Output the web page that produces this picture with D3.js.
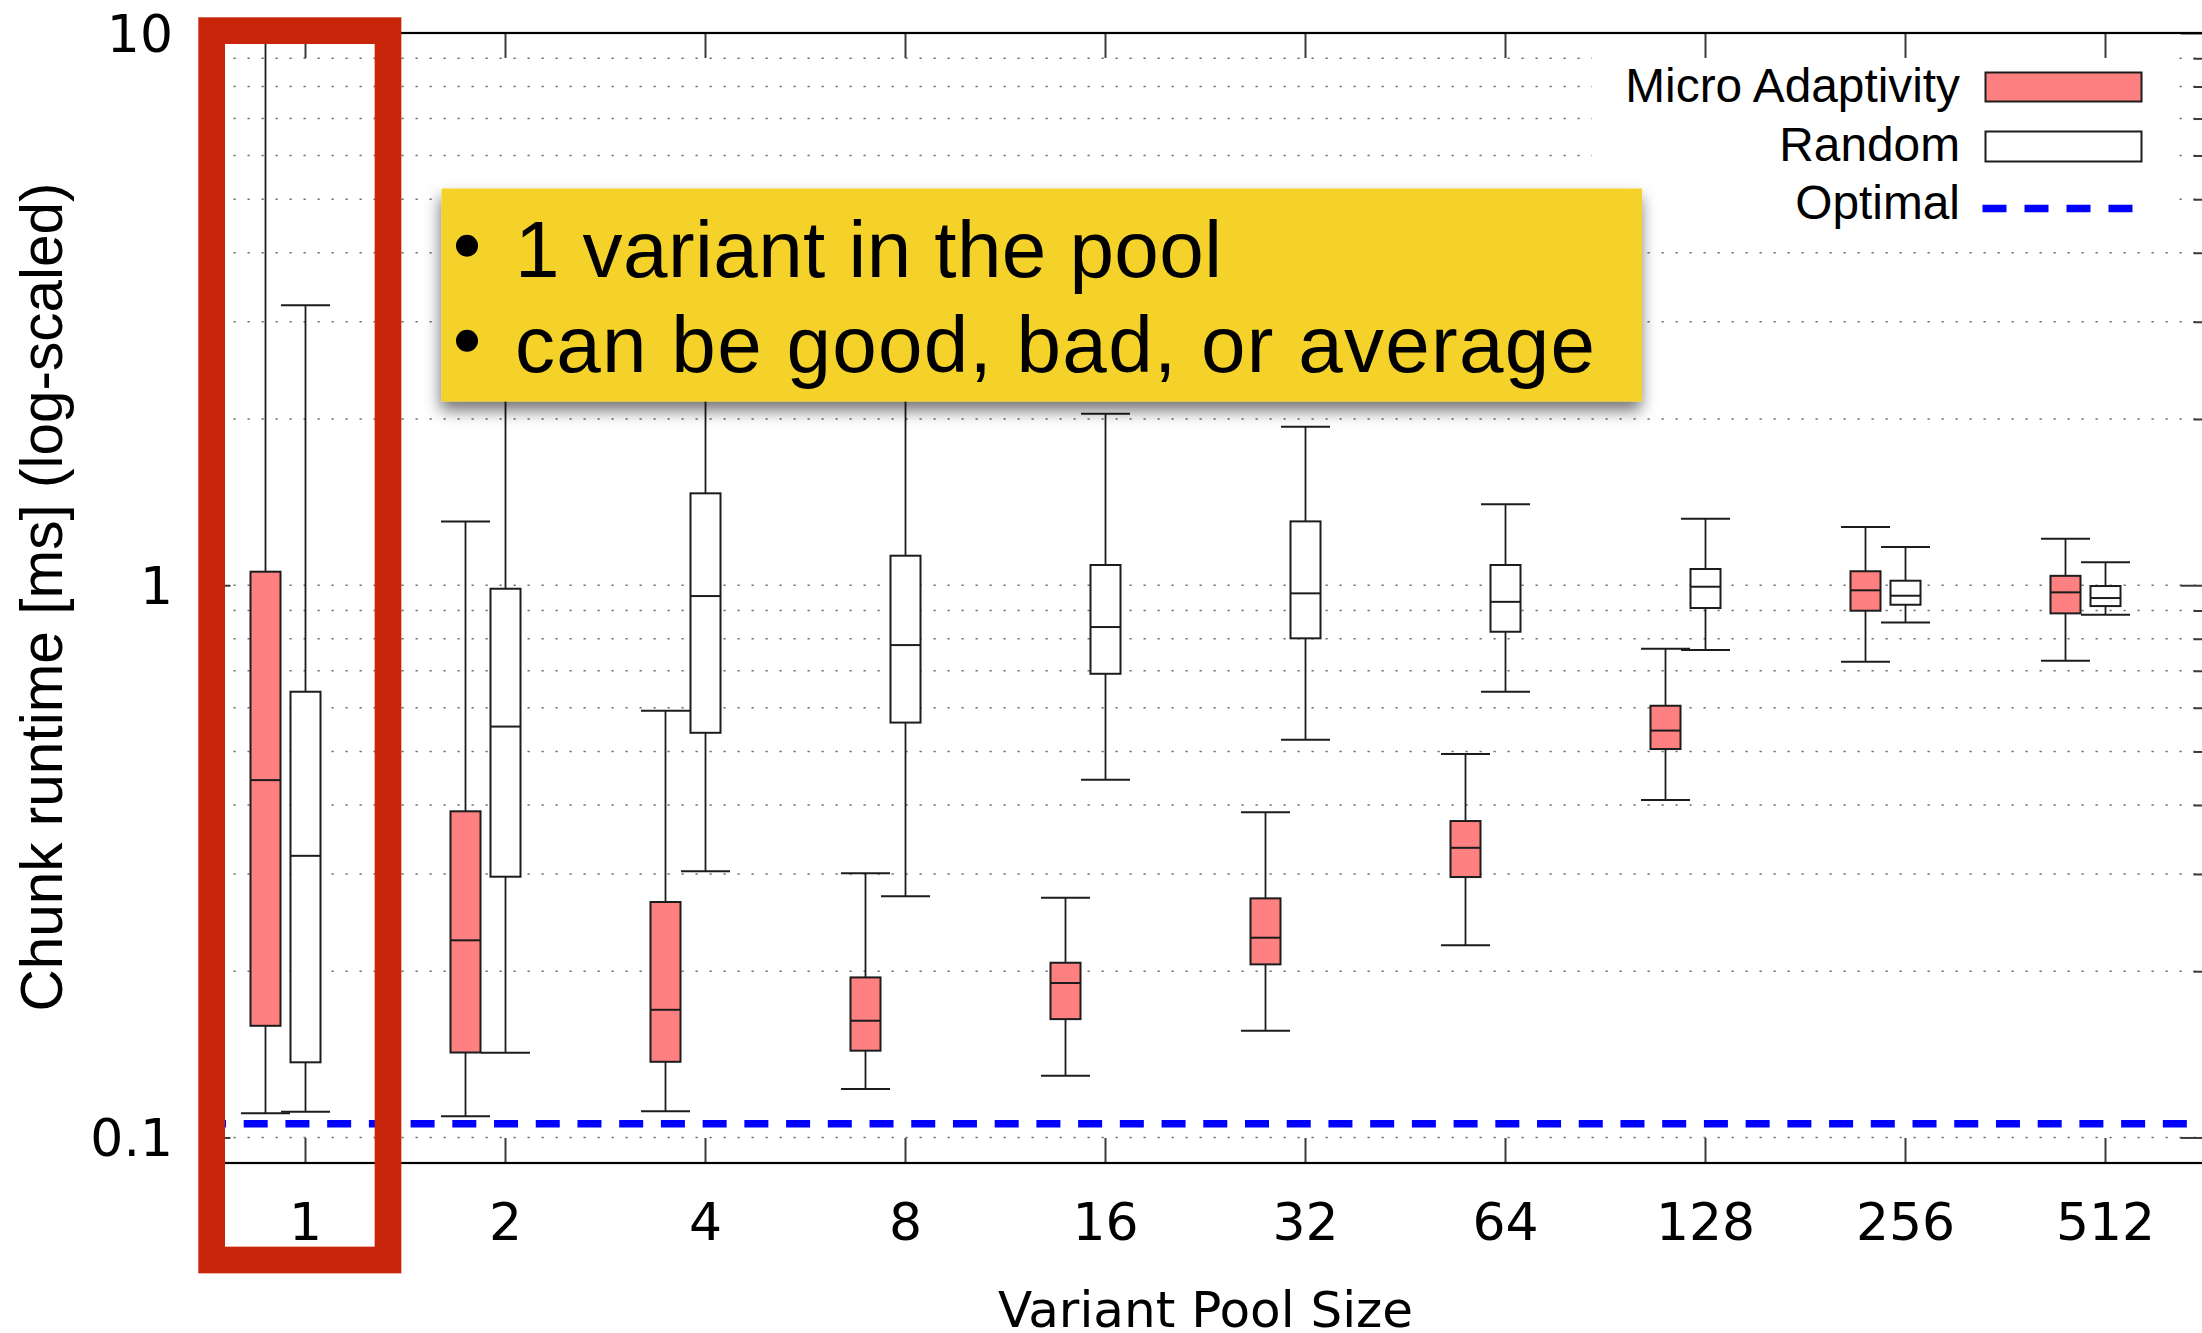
<!DOCTYPE html>
<html>
<head>
<meta charset="utf-8">
<script src="https://cdn.jsdelivr.net/npm/d3@7"></script>
<style>
  html, body { margin: 0; padding: 0; background: #fff; }
  svg { display: block; }
</style>
</head>
<body>
<svg id="chart" width="2202" height="1333"></svg>
<script>
// Variant pool sizes on the x axis
const poolSizes = ["1", "2", "4", "8", "16", "32", "64", "128", "256", "512"];

// Micro Adaptivity chunk runtimes [ms]: lower whisker, Q1, median, Q3, upper whisker
const maLow    = [0.1106, 0.1093, 0.1116, 0.1224, 0.1293, 0.1560, 0.2228, 0.4083, 0.7270, 0.7300];
const maQ1     = [0.1593, 0.1425, 0.1371, 0.1436, 0.1638, 0.2058, 0.2962, 0.5051, 0.8992, 0.8893];
const maMedian = [0.4437, 0.2275, 0.1703, 0.1627, 0.1904, 0.2300, 0.3346, 0.5455, 0.9790, 0.9708];
const maQ3     = [1.058, 0.3896, 0.2669, 0.1949, 0.2072, 0.2710, 0.3741, 0.6050, 1.060, 1.040];
const maHigh   = [9.8, 1.305, 0.5926, 0.3010, 0.2717, 0.3881, 0.4946, 0.7674, 1.275, 1.214];

// Random variant choice chunk runtimes [ms]
const rndLow    = [0.1113, 0.1424, 0.3035, 0.2733, 0.4443, 0.5250, 0.6414, 0.7633, 0.8565, 0.8842];
const rndQ1     = [0.1368, 0.2966, 0.5405, 0.5640, 0.6913, 0.8014, 0.8237, 0.9094, 0.9219, 0.9168];
const rndMedian = [0.3236, 0.5547, 0.9559, 0.7792, 0.8400, 0.9667, 0.9331, 0.9938, 0.9572, 0.9480];
const rndQ3     = [0.6414, 0.9855, 1.467, 1.131, 1.088, 1.305, 1.088, 1.070, 1.019, 0.9967];
const rndHigh   = [3.213, 3.0, 2.7, 2.4, 2.045, 1.936, 1.401, 1.319, 1.173, 1.100];

// Optimal runtime [ms]
const optimalRuntime = 0.1059;

// Y axis ticks
const yMajorTicks = [0.1, 1, 10];
const yTickLabels = ["0.1", "1", "10"];
const yMinorTicks = [0.2, 0.3, 0.4, 0.5, 0.6, 0.7, 0.8, 0.9, 2, 3, 4, 5, 6, 7, 8, 9];

const legendLabels = ["Micro Adaptivity", "Random", "Optimal"];
const calloutLines = ["1 variant in the pool", "can be good, bad, or average"];

// ---- layout ----
const plot = { left: 205.5, right: 2205.5, top: 33, bottom: 1163 };
const maColor = "#ff8080";
const inkColor = "#1c1c1c";
const boxW = 30, capW = 49, maOffset = -40;

const svg = d3.select("#chart");

const x = d3.scaleBand().domain(poolSizes).range([plot.left, plot.right]).padding(0);
const xc = d => x(d) + x.bandwidth() / 2;
const y = d3.scaleLog().domain([0.0899, 10]).range([plot.bottom, plot.top]);

// dotted horizontal grid
const gridVals = [...yMajorTicks.filter(v => v < 10), ...yMinorTicks];
svg.append("g").selectAll("line").data(gridVals).join("line")
  .attr("x1", plot.left).attr("x2", plot.right)
  .attr("y1", d => y(d)).attr("y2", d => y(d))
  .attr("stroke", "#6e6e6e").attr("stroke-width", 1.6)
  .attr("stroke-dasharray", "2.2 11.8");

// box plots
function drawBoxes(g, low, q1, med, q3, high, dx, fill) {
  const rows = poolSizes.map((p, i) => ({ p, low: low[i], q1: q1[i], med: med[i], q3: q3[i], high: high[i] }));
  const grp = g.selectAll("g").data(rows).join("g")
    .attr("transform", d => `translate(${xc(d.p) + dx},0)`);
  grp.append("line").attr("x1", 0).attr("x2", 0)
    .attr("y1", d => y(d.q3)).attr("y2", d => y(d.high))
    .attr("stroke", inkColor).attr("stroke-width", 1.8);
  grp.append("line").attr("x1", 0).attr("x2", 0)
    .attr("y1", d => y(d.q1)).attr("y2", d => y(d.low))
    .attr("stroke", inkColor).attr("stroke-width", 1.8);
  grp.append("line").attr("x1", -capW / 2).attr("x2", capW / 2)
    .attr("y1", d => y(d.high)).attr("y2", d => y(d.high))
    .attr("stroke", inkColor).attr("stroke-width", 2);
  grp.append("line").attr("x1", -capW / 2).attr("x2", capW / 2)
    .attr("y1", d => y(d.low)).attr("y2", d => y(d.low))
    .attr("stroke", inkColor).attr("stroke-width", 2);
  grp.append("rect").attr("x", -boxW / 2).attr("width", boxW)
    .attr("y", d => y(d.q3)).attr("height", d => y(d.q1) - y(d.q3))
    .attr("fill", fill).attr("stroke", inkColor).attr("stroke-width", 2);
  grp.append("line").attr("x1", -boxW / 2).attr("x2", boxW / 2)
    .attr("y1", d => y(d.med)).attr("y2", d => y(d.med))
    .attr("stroke", inkColor).attr("stroke-width", 2);
}
drawBoxes(svg.append("g"), maLow, maQ1, maMedian, maQ3, maHigh, maOffset, maColor);
drawBoxes(svg.append("g"), rndLow, rndQ1, rndMedian, rndQ3, rndHigh, 0, "#fff");

// optimal runtime line
svg.append("line")
  .attr("x1", plot.left).attr("x2", plot.right)
  .attr("y1", y(optimalRuntime)).attr("y2", y(optimalRuntime))
  .attr("stroke", "#0000ff").attr("stroke-width", 7.5)
  .attr("stroke-dasharray", "24 17.72").attr("stroke-dashoffset", 3.5);

// opaque legend background
svg.append("rect").attr("x", 1592).attr("y", 43).attr("width", 580).attr("height", 197).attr("fill", "#fff");

// axes
function styleAxis(g) {
  g.select(".domain").remove();
  g.selectAll(".tick line").attr("stroke", "#3a3a3a").attr("stroke-width", 2);
}
const tickFont = "'DejaVu Sans', Verdana, sans-serif";

const gx = svg.append("g").attr("transform", `translate(0,${plot.bottom})`)
  .call(d3.axisBottom(x).tickSizeInner(-25).tickSizeOuter(0)).call(styleAxis);
gx.selectAll(".tick text")
  .attr("y", 77).attr("dy", 0)
  .attr("font-family", tickFont).attr("font-size", 52).attr("fill", "#000");

svg.append("g").attr("transform", `translate(0,${plot.top})`)
  .call(d3.axisTop(x).tickSizeInner(-25).tickSizeOuter(0).tickFormat("")).call(styleAxis);

const gy = svg.append("g").attr("transform", `translate(${plot.left},0)`)
  .call(d3.axisLeft(y).tickValues(yMajorTicks).tickFormat((d, i) => yTickLabels[i]).tickSizeInner(-25).tickSizeOuter(0))
  .call(styleAxis);
gy.selectAll(".tick text")
  .attr("x", -32.5).attr("dy", "0.355em")
  .attr("font-family", tickFont).attr("font-size", 52).attr("fill", "#000");
svg.append("g").attr("transform", `translate(${plot.left},0)`)
  .call(d3.axisLeft(y).tickValues(yMinorTicks).tickFormat("").tickSizeInner(-12).tickSizeOuter(0)).call(styleAxis);

svg.append("g").attr("transform", `translate(${plot.right},0)`)
  .call(d3.axisRight(y).tickValues(yMajorTicks).tickFormat("").tickSizeInner(-25).tickSizeOuter(0)).call(styleAxis);
svg.append("g").attr("transform", `translate(${plot.right},0)`)
  .call(d3.axisRight(y).tickValues(yMinorTicks).tickFormat("").tickSizeInner(-12).tickSizeOuter(0)).call(styleAxis);

// frame
svg.append("rect")
  .attr("x", plot.left).attr("y", plot.top)
  .attr("width", plot.right - plot.left).attr("height", plot.bottom - plot.top)
  .attr("fill", "none").attr("stroke", "#000").attr("stroke-width", 2.2);

// axis titles
svg.append("text")
  .attr("x", (plot.left + plot.right) / 2).attr("y", 1327)
  .attr("text-anchor", "middle")
  .attr("font-family", tickFont).attr("font-size", 50).attr("fill", "#000")
  .text("Variant Pool Size");

svg.append("text")
  .attr("transform", "translate(61.5,597) rotate(-90)")
  .attr("text-anchor", "middle")
  .attr("font-family", "'Liberation Sans', Arial, sans-serif").attr("font-size", 58.5).attr("fill", "#000")
  .text("Chunk runtime [ms] (log-scaled)");

// legend
const legend = svg.append("g").attr("font-family", "'Liberation Sans', Arial, sans-serif").attr("font-size", 47.8);
const legendRows = [101.7, 160.5, 218.5];
legend.selectAll("text").data(legendLabels).join("text")
  .attr("x", 1960).attr("y", (d, i) => legendRows[i])
  .attr("text-anchor", "end").attr("fill", "#000")
  .text(d => d);
legend.append("rect").attr("x", 1985.5).attr("y", 72.5).attr("width", 156).attr("height", 29)
  .attr("fill", maColor).attr("stroke", inkColor).attr("stroke-width", 2);
legend.append("rect").attr("x", 1985.5).attr("y", 131.5).attr("width", 156).attr("height", 30)
  .attr("fill", "#fff").attr("stroke", inkColor).attr("stroke-width", 2);
legend.append("line").attr("x1", 1982.5).attr("x2", 2132.5).attr("y1", 208.5).attr("y2", 208.5)
  .attr("stroke", "#0000ff").attr("stroke-width", 7.5).attr("stroke-dasharray", "24 18");

// callout note with drop shadow
const defs = svg.append("defs");
const f = defs.append("filter").attr("id", "noteShadow")
  .attr("x", "-10%").attr("y", "-20%").attr("width", "120%").attr("height", "150%");
f.append("feDropShadow").attr("dx", -1).attr("dy", 9).attr("stdDeviation", 8)
  .attr("flood-color", "#000").attr("flood-opacity", 0.55);

const note = svg.append("g");
note.append("rect").attr("x", 441.5).attr("y", 188.5).attr("width", 1200.5).attr("height", 213)
  .attr("fill", "#f5d22b").attr("filter", "url(#noteShadow)");
const noteRows = [276.7, 371.7];
const noteWidths = [707, 1080];
note.selectAll("circle").data(calloutLines).join("circle")
  .attr("cx", 467).attr("cy", (d, i) => noteRows[i] - 31).attr("r", 11).attr("fill", "#000");
note.selectAll("text").data(calloutLines).join("text")
  .attr("x", 515).attr("y", (d, i) => noteRows[i])
  .attr("textLength", (d, i) => noteWidths[i]).attr("lengthAdjust", "spacing")
  .attr("font-family", "'Liberation Sans', Arial, sans-serif").attr("font-size", 80).attr("fill", "#000")
  .text(d => d);

// highlight frame around pool size 1
svg.append("rect")
  .attr("x", 211.65).attr("y", 30.65).attr("width", 176.35).attr("height", 1229.35)
  .attr("fill", "none").attr("stroke", "#c8250a").attr("stroke-width", 26.7);
</script>
</body>
</html>
